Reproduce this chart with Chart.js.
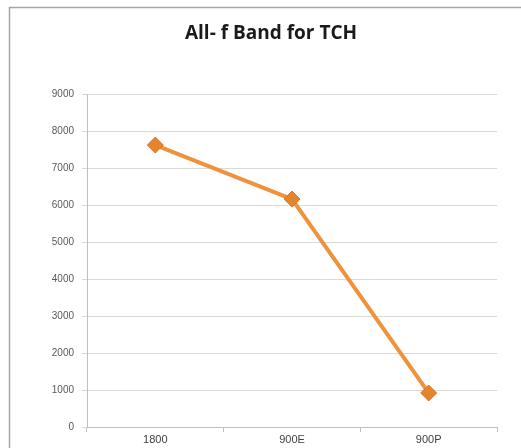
<!DOCTYPE html>
<html>
<head>
<meta charset="utf-8">
<script src="https://cdn.jsdelivr.net/npm/chart.js@4/dist/chart.umd.min.js"></script>
<style>
  html, body { margin: 0; padding: 0; background: #fff; }
  #wrap { width: 521px; height: 448px; position: relative; }
</style>
</head>
<body>
<div id="wrap"><canvas id="c" width="521" height="448"></canvas></div>
<script>
// Bands and their TCH totals
const categories = ['1800', '900E', '900P'];
const tchValues = [7620, 6160, 920];
const yTicks = [0, 1000, 2000, 3000, 4000, 5000, 6000, 7000, 8000, 9000];
const chartTitle = 'All- f Band for TCH';

// Light outer frame and the heading, centred over the whole frame
const framePlugin = {
  id: 'frame',
  beforeDraw(chart) {
    const ctx = chart.ctx;
    ctx.save();
    ctx.fillStyle = '#ffffff';
    ctx.fillRect(0, 0, chart.width, chart.height);
    ctx.strokeStyle = '#a6a6a6';
    ctx.lineWidth = 1.5;
    ctx.strokeRect(9.5, 7.5, 530, 460);
    ctx.fillStyle = '#1a1a1a';
    ctx.font = 'bold 19px "Open Sans"';
    ctx.textAlign = 'center';
    ctx.textBaseline = 'middle';
    ctx.fillText(chartTitle, 271, 34);
    ctx.restore();
  }
};

new Chart(document.getElementById('c'), {
  type: 'line',
  data: {
    labels: categories,
    datasets: [{
      label: 'TCH',
      data: tchValues,
      borderColor: '#f0913c',
      borderWidth: 4,
      pointStyle: 'rectRot',
      pointRadius: 8,
      pointHoverRadius: 8,
      pointBackgroundColor: '#e3852f',
      pointBorderColor: '#d9782a',
      pointBorderWidth: 1,
      tension: 0
    }]
  },
  options: {
    responsive: false,
    animation: false,
    layout: { padding: { top: 94, left: 10, right: 24, bottom: 0 } },
    plugins: {
      legend: { display: false },
      tooltip: { enabled: false },
      title: { display: false }
    },
    scales: {
      x: {
        offset: true,
        grid: {
          display: true,
          offset: true,
          drawOnChartArea: false,
          tickLength: 5,
          color: '#bfbfbf'
        },
        border: { color: '#bfbfbf' },
        ticks: {
          color: '#404040',
          font: { family: 'Liberation Sans', size: 11 },
          padding: 1
        },
        afterFit(scale) { scale.height = 21; }
      },
      y: {
        min: 0,
        max: 9000,
        afterBuildTicks(scale) { scale.ticks = yTicks.map(v => ({ value: v })); },
        grid: { color: '#d9d9d9', tickLength: 5 },
        border: { color: '#bfbfbf' },
        ticks: {
          color: '#595959',
          font: { family: 'Liberation Sans', size: 10 },
          padding: 8,
          callback: (v) => String(v)
        },
        afterFit(scale) { scale.width = 77; }
      }
    }
  },
  plugins: [framePlugin]
});
</script>
</body>
</html>
